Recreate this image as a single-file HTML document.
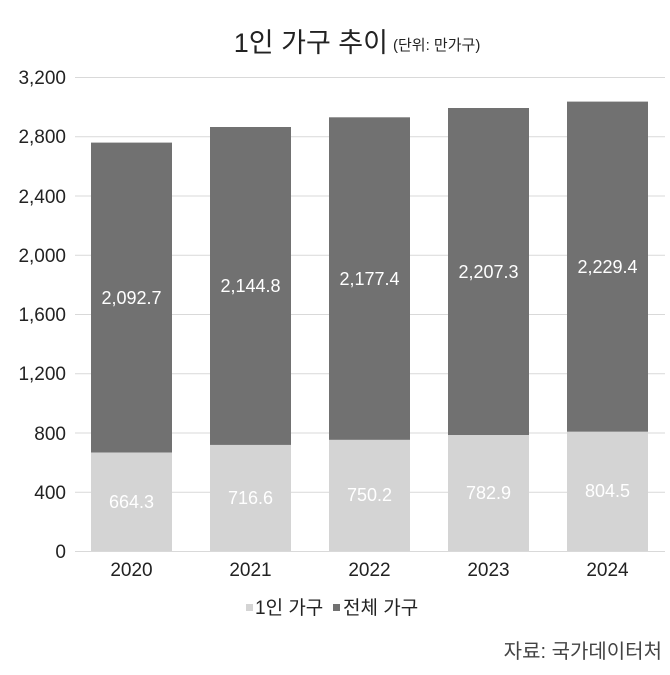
<!DOCTYPE html>
<html><head><meta charset="utf-8"><style>
body{margin:0;background:#fff;}
svg text{font-family:"Liberation Sans","Noto Sans CJK KR",sans-serif;}
</style></head><body>
<svg width="670" height="670" viewBox="0 0 670 670" xmlns="http://www.w3.org/2000/svg">
<rect width="670" height="670" fill="#fff"/>
<text x="388" y="52" font-size="27" text-anchor="end" fill="#222">1인 가구 추이</text>
<text x="393" y="50" font-size="15" fill="#222">(단위: 만가구)</text>
<g stroke="#d9d9d9" stroke-width="1">
<line x1="75" x2="665" y1="77.5" y2="77.5"/><line x1="75" x2="665" y1="136.7" y2="136.7"/>
<line x1="75" x2="665" y1="196" y2="196"/><line x1="75" x2="665" y1="255.2" y2="255.2"/>
<line x1="75" x2="665" y1="314.5" y2="314.5"/><line x1="75" x2="665" y1="373.7" y2="373.7"/>
<line x1="75" x2="665" y1="433" y2="433"/><line x1="75" x2="665" y1="492.2" y2="492.2"/>
<line x1="75" x2="665" y1="551.5" y2="551.5"/>
</g>
<g font-size="19" fill="#222" text-anchor="end">
<text x="66" y="84">3,200</text><text x="66" y="143">2,800</text><text x="66" y="203">2,400</text>
<text x="66" y="262">2,000</text><text x="66" y="321">1,600</text><text x="66" y="380">1,200</text>
<text x="66" y="440">800</text><text x="66" y="499">400</text><text x="66" y="558">0</text>
</g>
<g fill="#717171">
<rect x="91" y="142.6" width="81" height="310"/><rect x="210" y="127" width="81" height="318"/>
<rect x="329" y="117.3" width="81" height="322.6"/><rect x="448" y="108" width="81" height="327"/>
<rect x="567" y="101.6" width="81" height="330.2"/>
</g>
<g fill="#d4d4d4">
<rect x="91" y="452.6" width="81" height="98.4"/><rect x="210" y="444.9" width="81" height="106.1"/>
<rect x="329" y="439.9" width="81" height="111.1"/><rect x="448" y="435" width="81" height="116"/>
<rect x="567" y="431.8" width="81" height="119.2"/>
</g>
<g font-size="18" fill="#fff" text-anchor="middle">
<text x="131.5" y="304">2,092.7</text><text x="250.5" y="292">2,144.8</text><text x="369.5" y="285">2,177.4</text>
<text x="488.5" y="278">2,207.3</text><text x="607.5" y="273">2,229.4</text>
<text x="131.5" y="508">664.3</text><text x="250.5" y="504">716.6</text><text x="369.5" y="501">750.2</text>
<text x="488.5" y="499">782.9</text><text x="607.5" y="497">804.5</text>
</g>
<g font-size="19" fill="#222" text-anchor="middle">
<text x="131.5" y="576">2020</text><text x="250.5" y="576">2021</text><text x="369.5" y="576">2022</text>
<text x="488.5" y="576">2023</text><text x="607.5" y="576">2024</text>
</g>
<rect x="246" y="604" width="7" height="7" fill="#d4d4d4"/>
<text x="255" y="614" font-size="19" fill="#222">1인 가구</text>
<rect x="333" y="604" width="7" height="7" fill="#717171"/>
<text x="343" y="614" font-size="19" fill="#222">전체 가구</text>
<text x="662" y="658" font-size="20" fill="#444" text-anchor="end">자료: 국가데이터처</text>
</svg>
</body></html>
